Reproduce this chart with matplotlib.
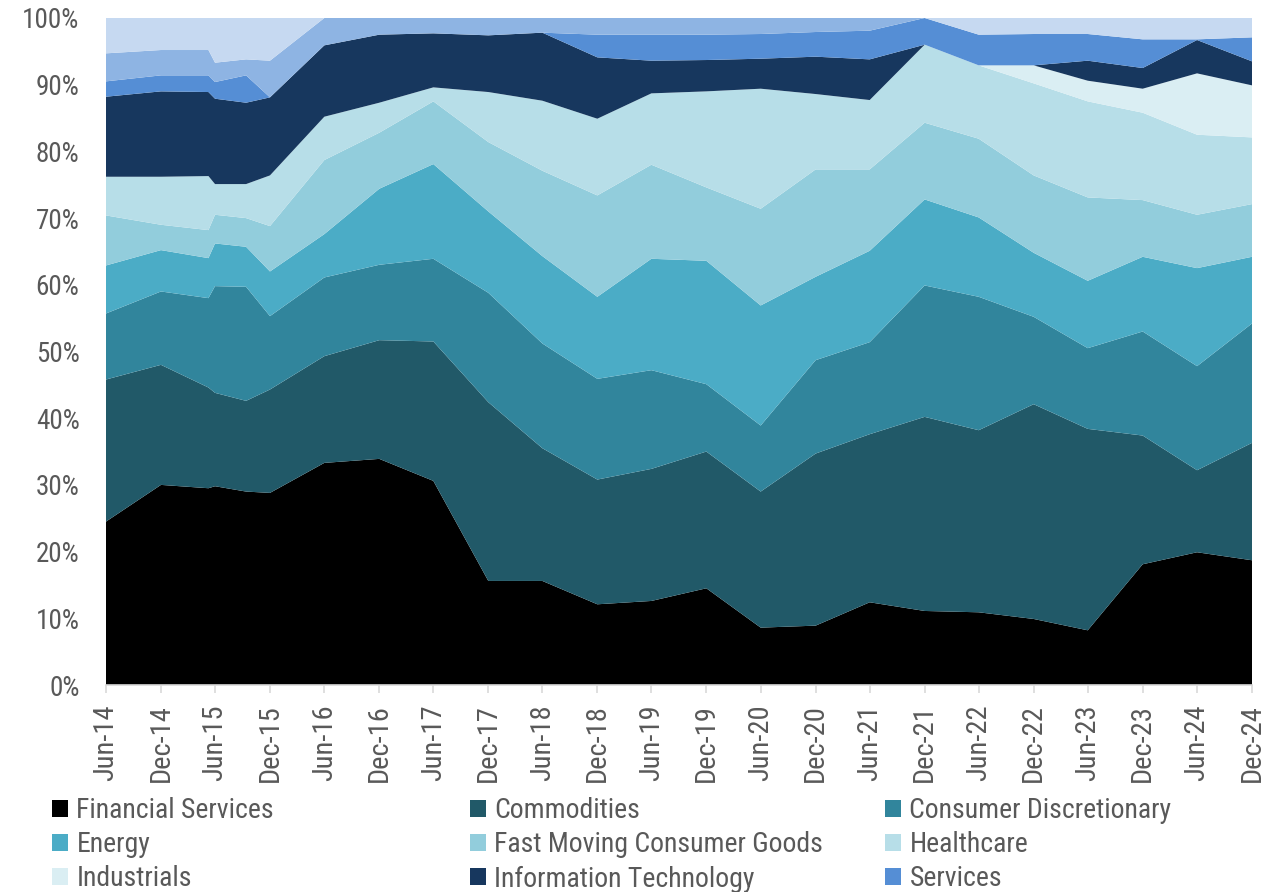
import numpy as np
import pandas as pd
import matplotlib
matplotlib.use("Agg")
import matplotlib.pyplot as plt
from matplotlib import font_manager
from matplotlib.patches import Patch

# dates of the data points (two extra points in 2015)
dates = pd.to_datetime([
    "2014-06-30", "2014-12-31", "2015-06-08", "2015-06-30", "2015-10-12",
    "2015-12-31", "2016-06-30", "2016-12-31", "2017-06-30", "2017-12-31",
    "2018-06-30", "2018-12-31", "2019-06-30", "2019-12-31", "2020-06-30",
    "2020-12-31", "2021-06-30", "2021-12-31", "2022-06-30", "2022-12-31",
    "2023-06-30", "2023-12-31", "2024-06-30", "2024-12-31",
])
tick_dates = pd.date_range("2014-06-30", "2024-12-31", freq="6ME")
tick_labels = [d.strftime("%b-%y") for d in tick_dates]

# sector weights (%)
financial = [24.5, 30.0, 29.5, 29.8, 29.0, 28.8, 33.3, 33.9, 30.6, 15.6, 15.6, 12.1,
             12.6, 14.5, 8.6, 8.9, 12.4, 11.1, 10.9, 9.9, 8.2, 18.1, 19.9, 18.7]
commodities = [21.3, 18.0, 15.1, 14.0, 13.6, 15.5, 16.0, 17.8, 20.9, 26.8, 19.9, 18.7,
               19.8, 20.5, 20.4, 25.8, 25.2, 29.1, 27.3, 32.2, 30.2, 19.3, 12.3, 17.6]
cons_disc = [9.9, 11.0, 13.4, 16.0, 17.1, 11.0, 11.8, 11.3, 12.4, 16.4, 15.7, 15.1,
             14.8, 10.1, 9.9, 14.0, 13.8, 19.7, 20.0, 13.1, 12.1, 15.6, 15.6, 17.9]
energy = [7.2, 6.2, 6.0, 6.4, 6.0, 6.7, 6.5, 11.4, 14.2, 12.2, 13.1, 12.3,
          16.7, 18.5, 18.0, 12.5, 13.7, 12.9, 11.9, 9.6, 10.1, 11.2, 14.7, 10.0]
fmcg = [7.5, 3.8, 4.2, 4.3, 4.3, 6.8, 11.1, 8.4, 9.4, 10.4, 12.8, 15.2,
        14.1, 11.0, 14.5, 16.1, 12.2, 11.5, 11.8, 11.6, 12.5, 8.5, 8.0, 7.9]
healthcare = [5.8, 7.2, 8.1, 4.6, 5.1, 7.6, 6.5, 4.5, 2.1, 7.5, 10.5, 11.5,
              10.7, 14.4, 18.0, 11.3, 10.4, 11.7, 11.0, 13.8, 14.4, 13.1, 12.0, 10.0]
industrials = [0, 0, 0, 0, 0, 0, 0, 0, 0, 0, 0, 0,
               0, 0, 0, 0, 0, 0, 0, 2.7, 3.1, 3.6, 9.2, 7.8]
info_tech = [12.0, 12.8, 12.6, 12.8, 12.2, 11.7, 10.7, 10.2, 8.1, 8.5, 10.2, 9.2,
             4.9, 4.7, 4.5, 5.6, 6.1, 0, 0, 0, 3.0, 3.1, 5.0, 3.6]
services = [2.3, 2.4, 2.5, 2.5, 4.1, 0, 0, 0, 0, 0, 0, 3.4,
            3.9, 3.8, 3.7, 3.7, 4.3, 4.0, 4.6, 4.7, 4.0, 4.3, 0.1, 3.6]
telecom = [4.2, 3.8, 3.8, 2.9, 2.4, 5.5, 4.1, 2.5, 2.3, 2.6, 2.2, 2.5,
           2.5, 2.5, 2.4, 2.1, 1.9, 0, 0, 0, 0, 0, 0, 0]
other = [5.3, 4.8, 4.8, 6.7, 6.2, 6.4, 0, 0, 0, 0, 0, 0,
         0, 0, 0, 0, 0, 0, 2.5, 2.4, 2.4, 3.2, 3.2, 2.9]

names = ["Financial Services", "Commodities", "Consumer Discretionary", "Energy",
         "Fast Moving Consumer Goods", "Healthcare", "Industrials",
         "Information Technology", "Services", "Telecommunications", "Other"]
colors = ["#000000", "#215968", "#31859C", "#4BACC6", "#92CDDC", "#B7DEE8",
          "#DAEEF3", "#17375E", "#558ED5", "#8EB4E3", "#C6D9F1"]
series = [financial, commodities, cons_disc, energy, fmcg, healthcare,
          industrials, info_tech, services, telecom, other]

# the original uses a narrow font, take one if there is any
fonts = font_manager.fontManager.ttflist
avail = {f.name for f in fonts}
narrow = [n for n in ["Liberation Sans Narrow", "Arial Narrow", "Roboto Condensed",
                      "Open Sans Condensed"] if n in avail]
scale = 1.0
if narrow:
    plt.rcParams["font.family"] = [narrow[0], "DejaVu Sans"]
elif any(f.name == "DejaVu Sans" and f.stretch == "condensed" for f in fonts):
    plt.rcParams["font.family"] = ["DejaVu Sans"]
    plt.rcParams["font.stretch"] = "condensed"
    scale = 0.9
else:
    plt.rcParams["font.family"] = ["Liberation Sans", "DejaVu Sans"]
    scale = 0.9
grey = "#595959"

fig = plt.figure(figsize=(12.81, 8.92), dpi=100)
ax = fig.add_axes([106 / 1281, 1 - 685 / 892, 1146 / 1281, 667 / 892])

ax.stackplot(dates, np.array(series), colors=colors, linewidth=0)

ax.set_xlim(dates[0], dates[-1])
ax.set_ylim(0, 100)
ax.set_yticks(np.arange(0, 101, 10))
ax.set_yticklabels([f"{v}%" for v in range(0, 101, 10)])
ax.set_xticks(tick_dates)
ax.set_xticklabels(tick_labels, rotation=90)

for s in ["top", "right", "left"]:
    ax.spines[s].set_visible(False)
ax.spines["bottom"].set_color("#D9D9D9")
ax.spines["bottom"].set_linewidth(1.2)
ax.tick_params(axis="y", length=0, labelsize=19.5 * scale, colors=grey, pad=19)
ax.tick_params(axis="x", length=6, width=1.2, color="#D9D9D9", labelsize=20.5 * scale,
               labelcolor=grey, pad=8)

# legend: 3 columns, row-major order like the original
handles = [Patch(facecolor=c, edgecolor="none") for c in colors[:9]]
col_x = [52, 470, 885]
for j in range(3):
    idx = [j, j + 3, j + 6]
    fig.legend([handles[i] for i in idx], [names[i] for i in idx],
               loc="upper left", bbox_to_anchor=(col_x[j] / 1281, 1 - 797 / 892),
               frameon=False, fontsize=20 * scale, labelcolor=grey, borderpad=0,
               borderaxespad=0, handlelength=0.58, handleheight=0.58,
               handletextpad=0.3, labelspacing=0.26)

fig.savefig("out.png", dpi=100)
